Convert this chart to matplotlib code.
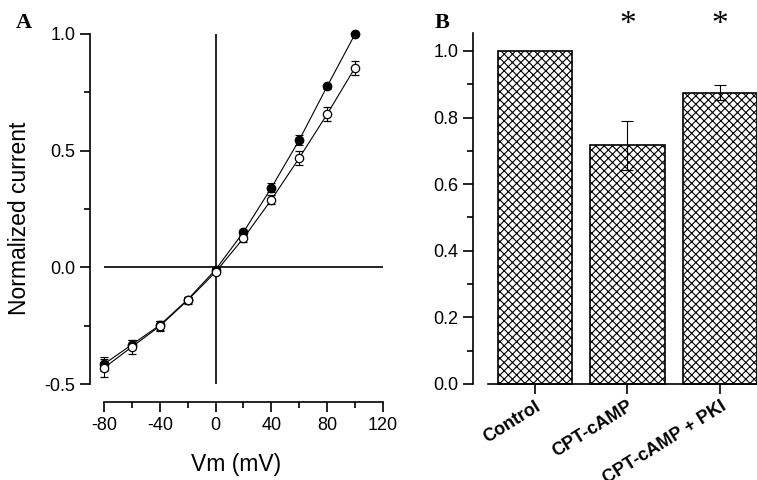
import numpy as np
import matplotlib.pyplot as plt

#---------------- data ----------------#
vm = [-80, -60, -40, -20, 0, 20, 40, 60, 80, 100]
ctrl_i = [-0.415, -0.331, -0.248, -0.138, -0.01, 0.151, 0.341, 0.546, 0.776, 1.0]
ctrl_err = [0.03, 0.02, 0.02, 0.01, 0.01, 0.01, 0.02, 0.02, 0.01, 0.0]
camp_i = [-0.431, -0.341, -0.252, -0.141, -0.02, 0.125, 0.29, 0.469, 0.657, 0.856]
camp_err = [0.04, 0.03, 0.02, 0.015, 0.01, 0.015, 0.02, 0.03, 0.03, 0.03]

groups = ["Control", "CPT-cAMP", "CPT-cAMP + PKI"]
bar_vals = [1.0, 0.717, 0.875]
bar_err = [0.0, 0.073, 0.023]
signif = [False, True, True]

plt.rcParams['font.family'] = ['Liberation Sans', 'DejaVu Sans']
plt.rcParams['axes.unicode_minus'] = False
plt.rcParams['hatch.linewidth'] = 0.8

W, H = 757, 480
fig = plt.figure(figsize=(W / 100, H / 100), dpi=100)

def px(x0, y0, x1, y1):
    # pixel box (top-left origin) -> figure fraction rect
    return [x0 / W, 1 - y1 / H, (x1 - x0) / W, (y1 - y0) / H]

#---------------- panel A ----------------#
ax = fig.add_axes(px(90, 34, 383, 402))
ax.set_xlim(-90, 120)
ax.set_ylim(-0.577, 1.0)
for s in ['top', 'right']:
    ax.spines[s].set_visible(False)
ax.spines['left'].set_bounds(-0.5, 1.0)
ax.spines['bottom'].set_bounds(-80, 120)
for s in ['left', 'bottom']:
    ax.spines[s].set_linewidth(1.2)

ax.hlines(0, -80, 120, color='black', lw=1.2)
ax.vlines(0, -0.5, 1.0, color='black', lw=1.2)

ax.errorbar(vm, ctrl_i, yerr=ctrl_err, fmt='-o', color='black', mfc='black', mec='black',
            ms=6, lw=0.8, elinewidth=0.8, capsize=3, capthick=0.8, clip_on=False, zorder=3)
ax.errorbar(vm, camp_i, yerr=camp_err, fmt='-o', color='black', mfc='white', mec='black',
            ms=6, mew=0.9, lw=0.8, elinewidth=0.8, capsize=3, capthick=0.8, clip_on=False, zorder=4)

ax.set_xticks([-80, -40, 0, 40, 80, 120])
ax.set_xticks([-60, -20, 20, 60, 100], minor=True)
ax.set_yticks([-0.5, 0.0, 0.5, 1.0])
ax.set_yticks([-0.25, 0.25, 0.75], minor=True)
ax.set_yticklabels(['-0.5', '0.0', '0.5', '1.0'])
ax.tick_params(which='major', length=7, width=1.2, labelsize=13, direction='out')
ax.tick_params(which='minor', length=4, width=1.2, direction='out')
ax.set_xlabel('Vm (mV)', fontsize=16.5, labelpad=14)
ax.set_ylabel('Normalized current', fontsize=16.5, labelpad=10)

#---------------- panel B ----------------#
bx = fig.add_axes(px(473, 33, 757, 384))
x = np.arange(len(groups))
bx.set_xlim(-0.67, 2.4)
bx.set_ylim(0, 1.054)
for s in ['top', 'right']:
    bx.spines[s].set_visible(False)
bx.spines['bottom'].set_bounds(-0.51, 2.4)
for s in ['left', 'bottom']:
    bx.spines[s].set_linewidth(1.2)

bars = bx.bar(x, bar_vals, width=0.81, color='white', edgecolor='black', hatch='xxxx',
              linewidth=1.2, clip_on=False)
for i in range(len(groups)):
    if bar_err[i] > 0:
        bx.errorbar(x[i], bar_vals[i], yerr=bar_err[i], fmt='none', ecolor='black',
                    elinewidth=0.8, capsize=4, capthick=0.8)
    if signif[i]:
        bx.text(x[i], 1.08, '*', ha='center', va='center', fontsize=24,
                family='Liberation Serif', clip_on=False)

bx.set_xticks(x)
bx.set_xticklabels(groups, rotation=32, ha='right', va='top', rotation_mode='anchor',
                   fontsize=12, fontweight='bold')
bx.set_yticks(np.arange(0, 1.01, 0.2))
bx.set_yticks(np.arange(0.1, 1.0, 0.2), minor=True)
bx.set_yticklabels(['0.0', '0.2', '0.4', '0.6', '0.8', '1.0'])
bx.tick_params(which='major', length=7, width=1.2, labelsize=13, direction='out')
bx.tick_params(which='minor', length=4, width=1.2, direction='out')
bx.tick_params(axis='x', pad=3)

#---------------- panel letters ----------------#
fig.text(16 / W, 1 - 28 / H, 'A', fontsize=16, fontweight='bold', family='Liberation Serif')
fig.text(435 / W, 1 - 28 / H, 'B', fontsize=16, fontweight='bold', family='Liberation Serif')

fig.savefig('out.png', dpi=100)
